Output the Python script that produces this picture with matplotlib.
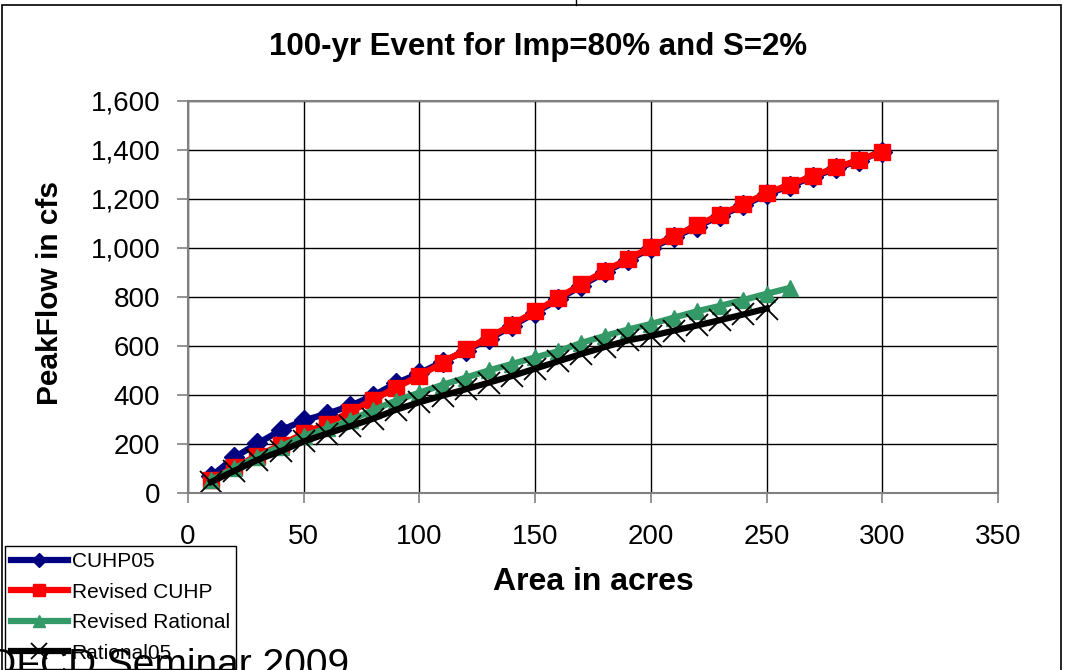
import matplotlib
matplotlib.use('Agg')
import matplotlib.pyplot as plt
from matplotlib.patches import Rectangle
from matplotlib.lines import Line2D
from matplotlib.ticker import StrMethodFormatter

plt.rcParams['font.family'] = ['Liberation Sans', 'DejaVu Sans']

# Area in acres
area_cuhp = [10, 20, 30, 40, 50, 60, 70, 80, 90, 100, 110, 120, 130, 140, 150,
             160, 170, 180, 190, 200, 210, 220, 230, 240, 250, 260, 270, 280, 290, 300]
area_revised_rational = [10, 20, 30, 40, 50, 60, 70, 80, 90, 100, 110, 120, 130,
                         140, 150, 160, 170, 180, 190, 200, 210, 220, 230, 240, 250, 260]
area_rational05 = [10, 20, 30, 40, 50, 60, 70, 80, 90, 100, 110, 120, 130,
                   140, 150, 160, 170, 180, 190, 200, 210, 220, 230, 240, 250]

# Peak flow in cfs
cuhp05 = [68, 145, 202, 255, 296, 323, 355, 397, 448, 488, 535, 580, 628, 680, 735,
          789, 845, 899, 948, 998, 1042, 1086, 1130, 1172, 1217, 1252, 1288, 1323, 1355, 1392]
revised_cuhp = [52, 106, 152, 195, 243, 283, 330, 380, 430, 478, 531, 585, 634, 686, 740,
                795, 851, 905, 953, 1003, 1047, 1091, 1135, 1177, 1222, 1257, 1292, 1327, 1358, 1392]
revised_rational = [52, 100, 148, 189, 233, 263, 296, 338, 377, 409, 441, 470, 500,
                    526, 553, 578, 612, 640, 666, 689, 715, 741, 763, 787, 812, 836]
rational05 = [45, 90, 135, 170, 210, 242, 272, 303, 340, 370, 397, 423, 450,
              477, 507, 537, 567, 595, 622, 640, 662, 683, 705, 728, 752]

W, H = 1065, 670
fig = plt.figure(figsize=(W / 100, H / 100), dpi=100)
ax = fig.add_axes([188 / W, 1 - 493 / H, (998 - 188) / W, (493 - 100.5) / H])

ax.plot(area_cuhp, cuhp05, color='#000080', lw=4.5, marker='D', ms=10, label='CUHP05')
ax.plot(area_cuhp, revised_cuhp, color='#FF0000', lw=4.5, marker='s', ms=11, label='Revised CUHP')
ax.plot(area_revised_rational, revised_rational, color='#339966', lw=4.5, marker='^', ms=11,
        label='Revised Rational')
ax.plot(area_rational05, rational05, color='black', lw=4.5, marker='x', ms=16, mew=1.3,
        label='Rational05')

ax.set_xlim(0, 350)
ax.set_ylim(0, 1600)
ax.set_xticks(range(0, 351, 50))
ax.set_yticks(range(0, 1601, 200))
ax.yaxis.set_major_formatter(StrMethodFormatter('{x:,.0f}'))
ax.grid(True, color='black', lw=1.0)
ax.set_axisbelow(True)
for s in ax.spines.values():
    s.set_color('#808080')
    s.set_linewidth(1.5)
ax.tick_params(axis='x', labelsize=20, length=7, width=1.2, color='#808080', pad=15)
ax.tick_params(axis='y', labelsize=20, length=8, width=1.2, color='#808080', pad=12)

fig.text(538 / W, 1 - 47 / H, '100-yr Event for Imp=80% and S=2%', ha='center', va='center',
         fontsize=22.5, fontweight='bold')
fig.text(593 / W, 1 - 582 / H, 'Area in acres', ha='center', va='center',
         fontsize=23, fontweight='bold')
fig.text(50 / W, 1 - 293 / H, 'PeakFlow in cfs', ha='center', va='center', rotation=90,
         fontsize=21.5, fontweight='bold')

leg = fig.legend(loc='upper left', bbox_to_anchor=(5 / W, 1 - 546 / H), fontsize=15,
                 frameon=True, fancybox=False, edgecolor='black', framealpha=1,
                 borderaxespad=0, handlelength=2.7, labelspacing=0.55, borderpad=0.3,
                 handletextpad=0.2, markerscale=0.75)
leg.get_frame().set_linewidth(1.0)

# outer slide frame
fig.add_artist(Rectangle((2 / W, -0.05), (1061 - 2) / W, 1.05 - 5 / H, transform=fig.transFigure,
                         fill=False, edgecolor='black', lw=1.2))
fig.add_artist(Line2D([576 / W, 576 / W], [1 - 5 / H, 1], transform=fig.transFigure,
                      color='black', lw=1))

fig.text(-40 / W, -6 / H, 'UDFCD Seminar 2009', fontsize=28, va='baseline', ha='left', zorder=10)

fig.savefig('out.png', dpi=100)
